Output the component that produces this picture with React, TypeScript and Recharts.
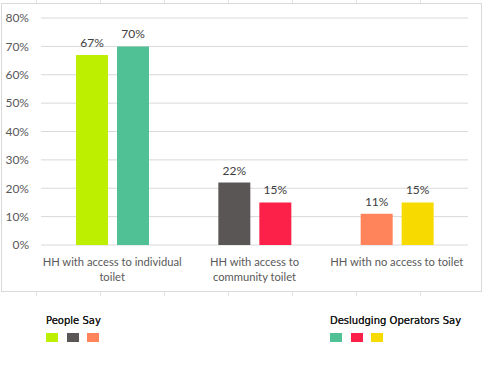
import { BarChart, Bar, XAxis, YAxis, CartesianGrid, Cell, LabelList } from 'recharts';

// categories (line breaks as wrapped in the original)
const categories = [
  'HH with access to individual\ntoilet',
  'HH with access to\ncommunity toilet',
  'HH with no access to toilet',
];
const peopleSay = [67, 22, 11];
const operatorsSay = [70, 15, 15];
const peopleColors = ['#bdf000', '#5a5656', '#ff845c'];
const operatorColors = ['#50c095', '#fc2148', '#f7da00'];
const yTicks = [0, 10, 20, 30, 40, 50, 60, 70, 80];
const sheetCols = [36, 100, 164, 228, 292, 356, 420];

const data = categories.map((name, i) => ({
  name,
  people: peopleSay[i],
  operators: operatorsSay[i],
}));

const FONT = 'Lato, "Liberation Sans", sans-serif';

const CategoryTick = (props: any) => {
  const { x, y, payload } = props;
  const lines = String(payload.value).split('\n');
  return (
    <text x={x} y={y} textAnchor="middle" fill="#595959" fontSize={11.2} fontFamily={FONT}>
      {lines.map((ln, i) => (
        <tspan key={i} x={x} dy={i === 0 ? 13 : 15}>
          {ln}
        </tspan>
      ))}
    </text>
  );
};

const LegendBlock = ({ title, colors, left }: { title: string; colors: string[]; left: number }) => (
  <div style={{ position: 'absolute', left, top: 314 }}>
    <div style={{ fontFamily: '"DejaVu Sans", sans-serif', fontSize: 10, color: '#1a1a1a', lineHeight: '13px', textShadow: '0 0 0.2px #1a1a1a' }}>
      {title}
    </div>
    <div style={{ display: 'flex', marginTop: 6 }}>
      {colors.map((c, i) => (
        <div key={i} style={{ width: 12, height: 9, background: c, marginRight: 8.5 }} />
      ))}
    </div>
  </div>
);

export default function App() {
  return (
    <div style={{ position: 'absolute', left: 0, top: 0, width: 483, height: 392, background: '#fff', overflow: 'hidden' }}>
      <svg width={483} height={300} style={{ position: 'absolute', left: 0, top: 0 }}>
        {sheetCols.map((x) => (
          <line key={x} x1={x + 0.5} x2={x + 0.5} y1={0} y2={296} stroke="#e3e3e3" />
        ))}
      </svg>
      <div
        style={{
          position: 'absolute',
          left: 1,
          top: 3,
          width: 479,
          height: 287,
          border: '1px solid #d9d9d9',
          background: '#fff',
        }}
      />
      <div style={{ position: 'absolute', left: 0, top: 0 }}>
        <BarChart
          width={483}
          height={292}
          data={data}
          margin={{ top: 18, right: 15, bottom: 7, left: 0 }}
          barSize={32}
          barGap={9}
        >
          <CartesianGrid vertical={false} stroke="#d9d9d9" />
          <XAxis
            dataKey="name"
            axisLine={false}
            tickLine={false}
            height={40}
            interval={0}
            tick={<CategoryTick />}
          />
          <YAxis
            width={41}
            domain={[0, 80]}
            ticks={yTicks}
            axisLine={false}
            tickLine={false}
            tickSize={0}
            tickMargin={12}
            tickFormatter={(v: number) => `${v}%`}
            tick={{ fill: '#595959', fontSize: 12, fontFamily: FONT }}
          />
          <Bar dataKey="people" isAnimationActive={false}>
            {data.map((_, i) => (
              <Cell key={i} fill={peopleColors[i]} />
            ))}
            <LabelList
              dataKey="people"
              position="top"
              offset={8}
              formatter={(v: any) => `${v}%`}
              style={{ fill: '#404040', fontSize: 12, fontFamily: FONT }}
            />
          </Bar>
          <Bar dataKey="operators" isAnimationActive={false}>
            {data.map((_, i) => (
              <Cell key={i} fill={operatorColors[i]} />
            ))}
            <LabelList
              dataKey="operators"
              position="top"
              offset={8}
              formatter={(v: any) => `${v}%`}
              style={{ fill: '#404040', fontSize: 12, fontFamily: FONT }}
            />
          </Bar>
        </BarChart>
      </div>
      <LegendBlock title="People Say" colors={peopleColors} left={46} />
      <LegendBlock title="Desludging Operators Say" colors={operatorColors} left={330} />
    </div>
  );
}
